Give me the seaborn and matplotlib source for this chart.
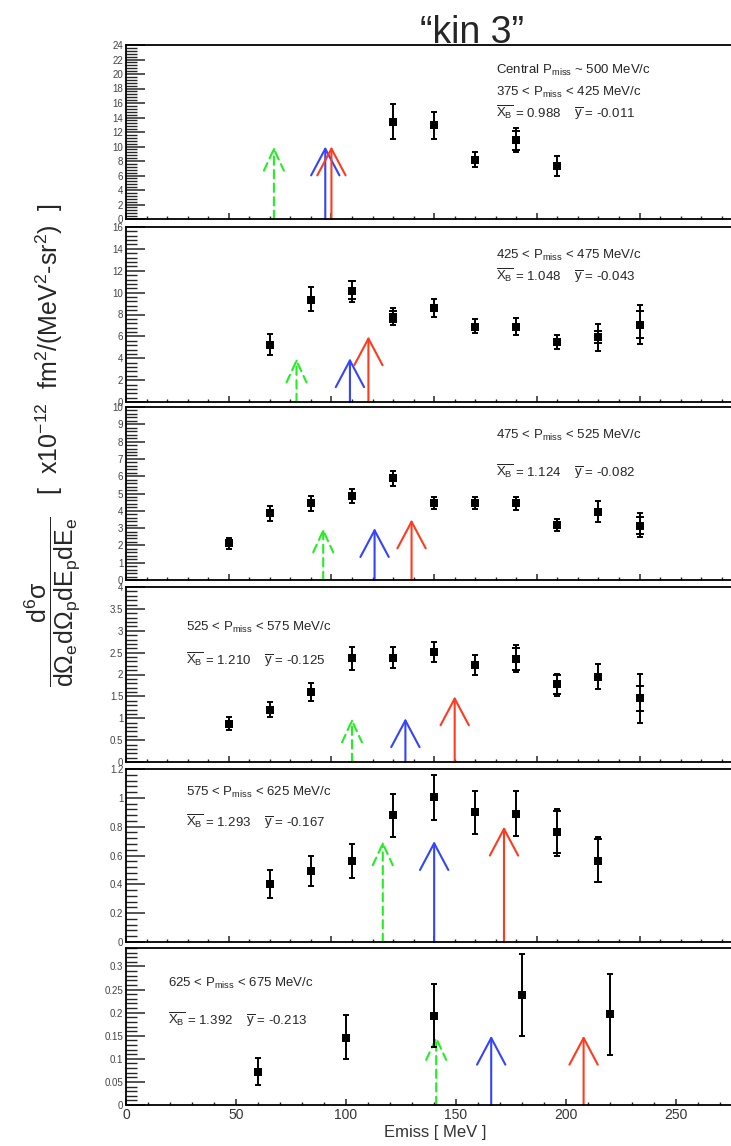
import numpy as np
import pandas as pd
import seaborn as sns
import matplotlib.pyplot as plt
from matplotlib.ticker import MultipleLocator, AutoMinorLocator, FuncFormatter

# ---- data (Emiss in MeV, cross section in 1e-12 units) ----
x_p1 = [130, 150, 170, 190, 210]
y_p1 = [13.4, 13.0, 8.2, 10.9, 7.3]
hi_p1 = [15.8, 14.8, 9.3, 12.6, 8.7]
lo_p1 = [11.1, 11.1, 7.2, 9.2, 6.0]

x_p2 = [70, 90, 110, 130, 150, 170, 190, 210, 230, 250]
y_p2 = [5.25, 9.35, 10.15, 7.75, 8.6, 6.85, 6.9, 5.5, 5.9, 7.05]
hi_p2 = [6.2, 10.5, 11.05, 8.55, 9.4, 7.55, 7.7, 6.1, 7.15, 8.85]
lo_p2 = [4.3, 8.3, 9.15, 7.0, 7.8, 6.3, 6.1, 4.85, 4.7, 5.3]

x_p3 = [50, 70, 90, 110, 130, 150, 170, 190, 210, 230, 250]
y_p3 = [2.15, 3.85, 4.45, 4.85, 5.9, 4.45, 4.45, 4.45, 3.2, 3.95, 3.15]
hi_p3 = [2.45, 4.25, 4.85, 5.25, 6.3, 4.8, 4.8, 4.8, 3.55, 4.55, 3.85]
lo_p3 = [1.8, 3.4, 4.0, 4.45, 5.45, 4.1, 4.1, 4.05, 2.85, 3.35, 2.5]

x_p4 = [50, 70, 90, 110, 130, 150, 170, 190, 210, 230, 250]
y_p4 = [0.88, 1.2, 1.6, 2.37, 2.38, 2.52, 2.22, 2.35, 1.78, 1.95, 1.46]
hi_p4 = [1.02, 1.37, 1.8, 2.62, 2.62, 2.75, 2.44, 2.67, 2.02, 2.23, 2.02]
lo_p4 = [0.74, 1.03, 1.4, 2.11, 2.14, 2.28, 1.99, 2.05, 1.52, 1.68, 0.9]

x_p5 = [70, 90, 110, 130, 150, 170, 190, 210, 230]
y_p5 = [0.40, 0.49, 0.565, 0.88, 1.005, 0.9, 0.885, 0.76, 0.565]
hi_p5 = [0.5, 0.6, 0.68, 1.03, 1.16, 1.05, 1.045, 0.925, 0.73]
lo_p5 = [0.305, 0.39, 0.445, 0.73, 0.845, 0.75, 0.735, 0.6, 0.415]

x_p6 = [60, 100, 140, 180, 220]
y_p6 = [0.0715, 0.146, 0.193, 0.238, 0.196]
hi_p6 = [0.101, 0.195, 0.263, 0.327, 0.284]
lo_p6 = [0.043, 0.099, 0.126, 0.149, 0.109]

# inner (statistical) error caps, where they are visibly separate
ix_p1, ilo_p1, ihi_p1 = [190], [9.45], [12.1]
ix_p2, ilo_p2, ihi_p2 = [110, 130, 230, 250], [9.4, 7.3, 5.35, 5.85], [11.05, 8.3, 6.45, 8.3]
ix_p3, ilo_p3, ihi_p3 = [250], [2.67], [3.63]
ix_p4, ilo_p4, ihi_p4 = [190, 210, 250], [2.11, 1.56, 1.16], [2.61, 2.0, 1.73]
ix_p5, ilo_p5, ihi_p5 = [210, 230], [0.618, 0.415], [0.907, 0.711]
ix_p6, ilo_p6, ihi_p6 = [], [], []

# arrow positions (MeV) and tip heights, one per panel
green_x = [72, 83, 96, 110, 125, 141]
green_tip = [10, 4, 3, 1.0, 0.7, 0.15]
blue_x = [97, 109, 121, 136, 150, 166]
blue_tip = [10, 4, 3, 1.0, 0.7, 0.15]
red_x = [100, 118, 139, 160, 184, 208]
red_tip = [10, 6, 3.5, 1.5, 0.8, 0.15]

y_max = [24, 16, 10, 4, 1.2, 0.34]
y_step = [2, 2, 1, 0.5, 0.2, 0.05]

pmiss_lo = [375, 425, 475, 525, 575, 625]
pmiss_hi = [425, 475, 525, 575, 625, 675]
xb_mean = ['0.988', '1.048', '1.124', '1.210', '1.293', '1.392']
y_mean = ['-0.011', '-0.043', '-0.082', '-0.125', '-0.167', '-0.213']

xs = [x_p1, x_p2, x_p3, x_p4, x_p5, x_p6]
ys = [y_p1, y_p2, y_p3, y_p4, y_p5, y_p6]
his = [hi_p1, hi_p2, hi_p3, hi_p4, hi_p5, hi_p6]
los = [lo_p1, lo_p2, lo_p3, lo_p4, lo_p5, lo_p6]
ixs = [ix_p1, ix_p2, ix_p3, ix_p4, ix_p5, ix_p6]
ilos = [ilo_p1, ilo_p2, ilo_p3, ilo_p4, ilo_p5, ilo_p6]
ihis = [ihi_p1, ihi_p2, ihi_p3, ihi_p4, ihi_p5, ihi_p6]

sns.set_theme(style='ticks')
plt.rcParams['font.family'] = ['Liberation Sans', 'DejaVu Sans']
plt.rcParams['mathtext.fontset'] = 'custom'
plt.rcParams['mathtext.rm'] = 'Liberation Sans'
plt.rcParams['mathtext.it'] = 'Liberation Sans'
plt.rcParams['mathtext.sf'] = 'Liberation Sans'
plt.rcParams['mathtext.bf'] = 'Liberation Sans:bold'

W, H = 731, 1146
fig = plt.figure(figsize=(W / 100, H / 100), dpi=100)

# panel frames in pixels (top, bottom)
tops = [45, 227, 407, 587, 769, 948]
bots = [219, 402, 580, 762, 942, 1105]
left = 126

# text anchors (pixels)
txt_x = [496, 496, 496, 186, 186, 168]
txt_y = [(92, 113), (255, 276), (435, 472), (627, 660), (792, 822), (983, 1020)]

fmt = FuncFormatter(lambda v, p: f'{v:g}')

for i in range(6):
    ax = fig.add_axes([left / W, 1 - bots[i] / H, (W - left) / W, (bots[i] - tops[i]) / H])
    x = np.array(xs[i]); y = np.array(ys[i])
    yerr = [y - np.array(los[i]), np.array(his[i]) - y]
    ax.errorbar(x, y, yerr=yerr, fmt='none', ecolor='black', elinewidth=1.4,
                capsize=2.5, capthick=1.4, zorder=3)
    if ixs[i]:
        # inner caps only (the bar itself is covered by the outer one)
        ax.scatter(ixs[i], ilos[i], marker='_', s=30, color='black', linewidths=1.4, zorder=3)
        ax.scatter(ixs[i], ihis[i], marker='_', s=30, color='black', linewidths=1.4, zorder=3)
    df = pd.DataFrame({'Emiss': x, 'xsec': y})
    sns.scatterplot(data=df, x='Emiss', y='xsec', marker='s', s=40, color='black',
                    linewidth=0, ax=ax, zorder=4)

    for ax_x, tip, col, ls, hl, hw in [
            (green_x[i], green_tip[i], '#22ee22', (0, (4, 2.5)), 1.3, 0.6),
            (blue_x[i], blue_tip[i], '#3344ff', '-', 1.6, 0.85),
            (red_x[i], red_tip[i], '#ff3b1f', '-', 1.6, 0.85)]:
        ax.annotate('', xy=(ax_x, tip), xytext=(ax_x, 0),
                    arrowprops=dict(arrowstyle=f'->,head_length={hl},head_width={hw}',
                                    color=col, lw=1.5, ls=ls, shrinkA=0, shrinkB=0),
                    zorder=2)

    ax.set_ylim(0, y_max[i])
    ax.set_xlim(0, 275 if i == 5 else 294.5)
    ax.set_xlabel('')
    ax.set_ylabel('')
    ax.yaxis.set_major_locator(MultipleLocator(y_step[i]))
    ax.yaxis.set_minor_locator(AutoMinorLocator(5))
    ax.yaxis.set_major_formatter(fmt)
    ax.xaxis.set_major_locator(MultipleLocator(50))
    ax.xaxis.set_minor_locator(MultipleLocator(10))
    ax.tick_params(axis='y', which='major', direction='in', length=14, width=1.1,
                   labelsize=7, pad=2, labelcolor='#444444')
    ax.tick_params(axis='y', which='minor', direction='in', length=8, width=1.0)
    ax.tick_params(axis='x', which='major', direction='in', length=4, width=1.1,
                   labelsize=10, pad=2, labelcolor='#333333')
    ax.tick_params(axis='x', which='minor', direction='in', length=2, width=1.0)
    if i < 5:
        ax.tick_params(axis='x', labelbottom=False)
    for s in ['left', 'bottom', 'top']:
        ax.spines[s].set_linewidth(1.3)
        ax.spines[s].set_color('black')
    ax.spines['right'].set_visible(False)

    # panel labels
    pm = f'{pmiss_lo[i]} < P$_{{\\mathrm{{miss}}}}$ < {pmiss_hi[i]} MeV/c'
    mean = (r'$\overline{\mathrm{X}_\mathrm{B}}$ = ' + xb_mean[i] +
            r'    $\overline{\mathrm{y}}$ = ' + y_mean[i])
    if i == 0:
        fig.text(txt_x[i] / W, 1 - 70 / H, r'Central P$_{\mathrm{miss}}$ ~ 500 MeV/c',
                 ha='left', va='center', fontsize=9.5)
    fig.text(txt_x[i] / W, 1 - txt_y[i][0] / H, pm, ha='left', va='center', fontsize=9.5)
    fig.text(txt_x[i] / W, 1 - txt_y[i][1] / H, mean, ha='left', va='center', fontsize=9.5)

fig.text(472 / W, 1 - 43 / H, '\u201ckin 3\u201d', ha='center', va='baseline', fontsize=27)
fig.text(435 / W, 1 - 1132 / H, 'Emiss [ MeV ]', ha='center', va='center', fontsize=12,
         color='#333333')
ylab = (r'$\dfrac{\mathrm{d}^6\sigma}{\mathrm{d}\Omega_e\mathrm{d}\Omega_p\mathrm{d}E_p\mathrm{d}E_e}$'
        r'   [  x10$^{-12}$  fm$^2$/(MeV$^2$-sr$^2$)  ]')
fig.text(52 / W, 1 - 445 / H, ylab, rotation=90, ha='center', va='center', fontsize=18)

fig.savefig('out.png', dpi=100)
